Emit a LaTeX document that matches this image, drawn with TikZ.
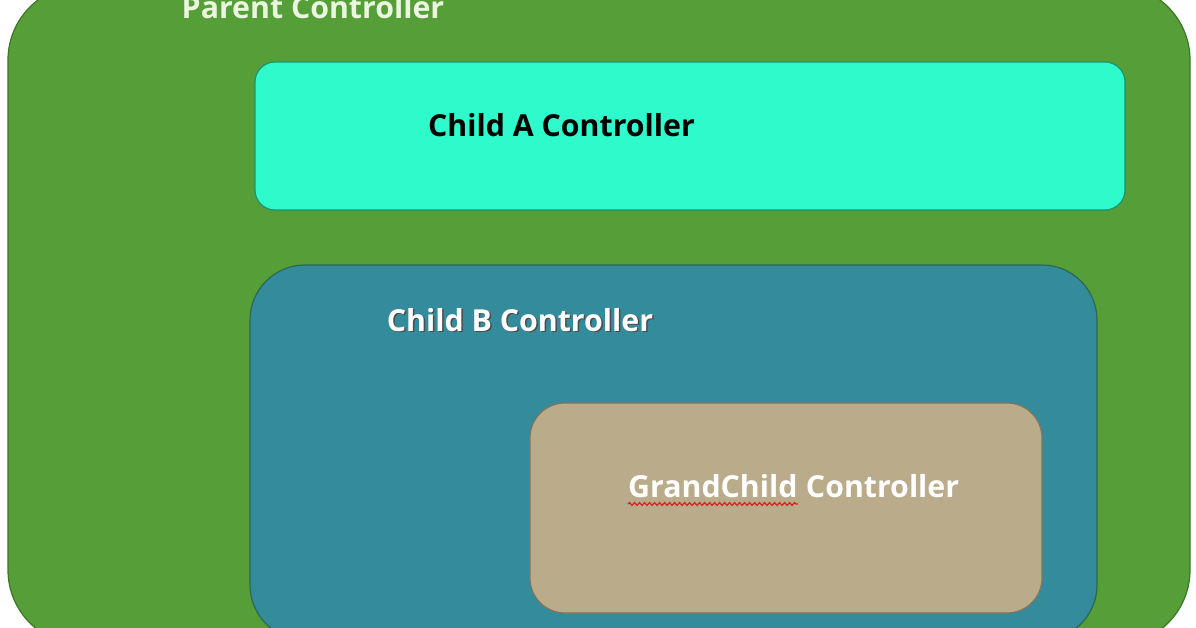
\documentclass[tikz,border=0pt]{standalone}
\usepackage{fontspec}
\setmainfont{Open Sans}
\usetikzlibrary{positioning,decorations.pathmorphing}
\definecolor{parentfill}{RGB}{86,158,56}
\definecolor{parentline}{RGB}{62,118,40}
\definecolor{childafill}{RGB}{46,250,204}
\definecolor{childaline}{RGB}{28,150,110}
\definecolor{childbfill}{RGB}{52,139,155}
\definecolor{childbline}{RGB}{44,104,84}
\definecolor{grandfill}{RGB}{186,172,139}
\definecolor{grandline}{RGB}{130,118,88}
\definecolor{parenttext}{RGB}{234,246,222}
\definecolor{squiggle}{RGB}{210,40,40}

\begin{document}
\begin{tikzpicture}[x=1pt, y=-1pt,
  box/.style={draw, line width=1.2pt, inner sep=0pt},
  label/.style={font=\bfseries\fontsize{30.3}{36}\selectfont, inner sep=0pt, anchor=base}]
  \clip (0,0) rectangle (1196,628);
  \fill[white] (0,0) rectangle (1196,628);
  % containers
  \node[box, fill=parentfill, draw=parentline, rounded corners=75pt,
        minimum width=1182pt, minimum height=660pt] (parent) at (599,315) {};
  \node[box, fill=childafill, draw=childaline, rounded corners=20pt,
        minimum width=870pt, minimum height=148pt] (childA) at (690,136) {};
  \node[box, fill=childbfill, draw=childbline, rounded corners=55pt,
        minimum width=847pt, minimum height=375pt] (childB) at (673.5,452.5) {};
  \node[box, fill=grandfill, draw=grandline, rounded corners=35pt,
        minimum width=512pt, minimum height=210pt] (grand) at (786,508) {};
  % labels
  \node[label, text=parenttext] (parentlbl) at (313,19) {Parent Controller};
  \node[label, text=black] (childAlbl) at (561.5,137) {Child A Controller};
  \node[label, text=black!70, xshift=1.5pt, yshift=-1.5pt] at (520,331) {Child B Controller};
  \node[label, text=white] (childBlbl) at (520,331) {Child B Controller};
  \node[label, anchor=base west, text=white] (grandword) at (628,497) {GrandChild};
  \node[label, anchor=base west, text=white] (grandrest)
       [right=8pt of grandword.base east, anchor=base west] {Controller};
  \draw[squiggle, line width=1.3pt, decorate,
        decoration={snake, amplitude=1.4pt, segment length=5pt}]
        ([yshift=-7pt]grandword.base west) -- ([yshift=-7pt]grandword.base east);
\end{tikzpicture}
\end{document}
